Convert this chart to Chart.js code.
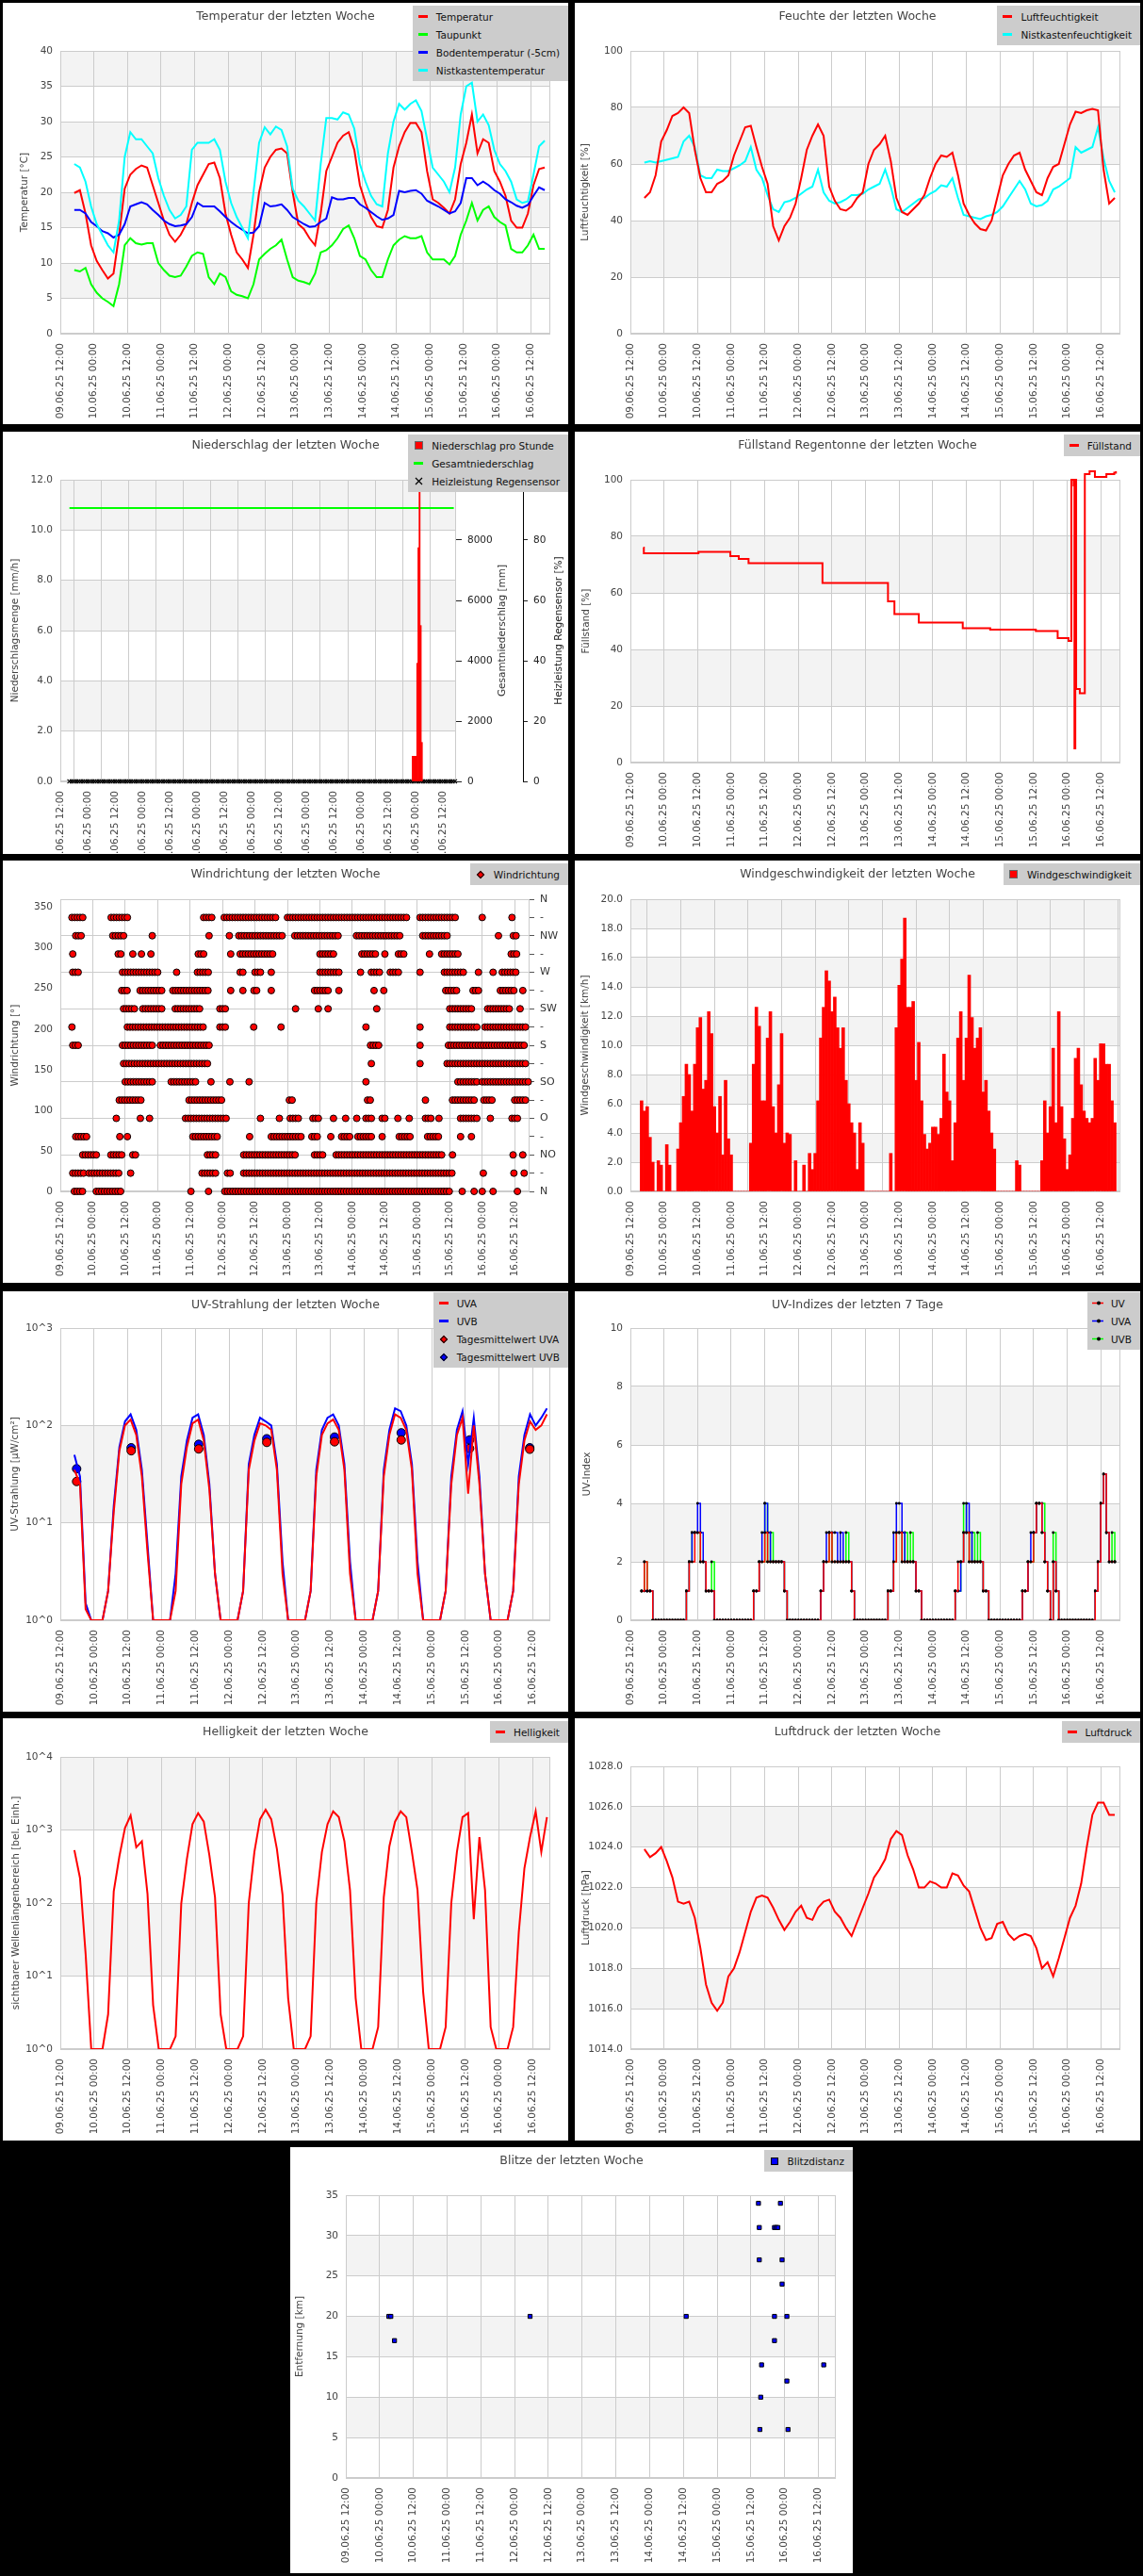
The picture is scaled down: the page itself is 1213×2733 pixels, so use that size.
<!DOCTYPE html>
<html><head><meta charset="utf-8">
<script src="https://cdn.jsdelivr.net/npm/chart.js@4.4.1/dist/chart.umd.min.js"></script>
<style>
body{margin:0;background:#000;width:1213px;height:2733px;position:relative;overflow:hidden;font-family:"DejaVu Sans",sans-serif}
.p{position:absolute;background:#fff;overflow:hidden}
.p canvas{position:absolute;left:0;top:0}
.t{position:absolute;top:6px;left:0;right:0;text-align:center;font-size:12.5px;color:#444;line-height:15px}
.lg{position:absolute;right:0;background:#ccc;padding:2px 9px 2px 5px;font-size:10.5px;color:#111}
.li{height:19px;display:flex;align-items:center;white-space:nowrap}
.mk{width:12px;margin-right:8px;display:flex;justify-content:center;align-items:center}
</style></head><body>
<script>
// ---------- DATA ----------
const tickHours=[0,12,24,36,48,60,72,84,96,108,120,132,144,156,168];
const hours2=Array.from({length:85},(_,i)=>5+2*i);   // 2-hourly sample times (h after 09.06.25 12:00)
const hours1=Array.from({length:170},(_,i)=>4+i);    // hourly sample times

const tempAir=[19.9,20.3,17.0,12.5,10.3,9.0,7.8,8.5,14.0,20.5,
22.5,23.3,23.8,23.5,21.0,18.5,16.0,14.0,13.0,14.0,
15.5,18.5,21.0,22.5,24.0,24.2,22.0,17.0,14.0,11.5,
10.5,9.3,14.0,20.0,23.5,25.0,26.0,26.2,25.5,20.0,
15.5,14.8,13.5,12.5,17.0,23.0,25.0,27.0,28.0,28.5,
26.0,21.0,18.5,16.5,15.2,15.0,17.5,23.5,26.5,28.5,
29.8,29.8,28.5,23.0,19.0,18.5,17.8,17.0,19.0,24.0,
27.0,31.0,25.5,27.5,27.0,23.0,21.5,19.5,16.0,15.0,
15.0,17.0,21.0,23.3,23.5];
const tempDew=[9.0,8.8,9.3,7.0,5.8,5.0,4.5,3.9,7.0,12.5,
13.5,12.8,12.6,12.8,12.8,10.0,9.0,8.2,8.0,8.2,
9.5,11.0,11.5,11.3,8.0,7.0,8.5,8.0,6.0,5.5,
5.3,5.0,7.0,10.5,11.3,12.0,12.5,13.3,10.5,8.0,
7.5,7.3,7.0,8.5,11.5,11.8,12.5,13.5,14.8,15.3,
13.5,11.0,10.5,9.0,8.0,8.0,10.5,12.5,13.3,13.8,
13.5,13.5,13.8,11.5,10.5,10.5,10.5,9.8,11.0,14.0,
16.0,18.5,16.0,17.5,18.0,16.5,15.8,15.3,12.0,11.5,
11.5,12.5,14.0,12.0,12.0];
const tempSoil=[17.5,17.5,17.0,15.8,15.2,14.5,14.2,13.6,14.0,15.5,
18.0,18.3,18.6,18.3,17.5,16.8,16.0,15.5,15.2,15.3,
15.5,16.5,18.5,18.0,18.0,18.0,17.3,16.5,15.8,15.2,
14.7,14.2,14.3,15.2,18.5,18.0,18.1,18.3,17.5,16.5,
16.0,15.5,15.1,15.2,15.8,16.3,19.3,19.0,19.0,19.2,
19.2,18.3,17.8,17.2,16.6,16.1,16.3,16.8,20.2,20.0,
20.2,20.3,19.8,18.8,18.4,18.0,17.5,17.0,17.3,18.5,
22.0,22.0,21.0,21.5,21.0,20.3,19.8,19.0,18.6,18.1,
17.8,18.2,19.5,20.7,20.3];
const tempBox=[24,23.5,21.5,18,15.5,14,12.5,11.5,16,25,
28.5,27.5,27.5,26.5,25.5,22,19.5,17.5,16.3,16.8,
18,26,27,27,27,27.5,26,21.5,18.5,16.5,
15,13.5,20,27,29.2,28.2,29.3,28.8,26.5,20.5,
18.8,18,17,16,24,30.5,30.5,30.3,31.3,31,
29,24,21.5,19.5,18.3,18,25.5,30,32.5,31.7,
32.5,33,31.5,27.5,23.5,22.5,21.5,20,23.5,31,
35,35.5,30,31,29.5,26,24,23,21.5,19,
18.5,18.7,22.5,26.5,27.3];

const humAir=[48,50,56,68,72,77,78,80,78,65,
55,50,50,53,54,56,63,68,73,73.5,
66,59,53,38,33,38,41,46,55,65,
70,74,70,52,47,44,43.5,45,48,50,
60,65,67,70,61,48,43,42,44,46,
49,55,60,63,62.5,64,56,46,42,39,
37,36.5,40,48,56,60,63,64,58,54,
50,49,55,59,60,67,74,78.5,78,79,
79.5,79,58,46,48];
const humBox=[60.5,61,60.5,61,61.5,62,62.5,68,70,66,
56,55,55,58,57.5,57.5,58.5,59.5,61,66,
58,55,49,44,43,46.5,47,48,49.5,51,
52,58,50,47,46,46.5,47.5,49,49,49.5,
51,52,53,58,52,44,43,44.5,46,47.5,
48,49.5,50.5,52.5,52,55,48,42,41.5,41,
40.5,41.5,42,43,45,48,51,54,51,46,
45,45.5,47,51,52,53.5,55,66,64,65,
66,73,62,54,50];

const rainT=[154.5,155,155.5,156,156.5,157,157.5,158,158.5];
const rainV=[1.0,1.0,1.0,1.0,4.7,9.3,12.5,6.2,1.55];
const rainTotT=[4,172.5];
const rainTotV=[9060,9060];
const heatV=hours1.map(()=>0);

const fillT=[4.6,4.8,24.3,35.7,38.7,42.2,68.6,92.0,94.3,103.0,118.7,128.5,144.8,152.6,156.5,157.5,158.3,158.6,158.9,159.2,160.5,162.3,164.0,165.9,170.0,172.8,173.4];
const fillV=[76,74,74.5,73,72,70.5,63.5,57,52.5,49.5,47.5,47,46.5,44,43,100,98,5,100,26,24.5,102,103,101,102,102.5,103];

const dirSectors=[0,22.5,45,67.5,90,112.5,135,157.5,180,202.5,225,247.5,270,292.5,315,337.5];
const dirRanges=[
[[5.2,8.3],[13.3,22.7],[48.3],[54.8],[60.8,144.3],[148.6],[153],[156],[160],[169]],
[[4.6,9.3],[10.6,22],[26],[52.4,57.7],[61.8,63],[67.8,145],[156.4],[167.7],[171.5]],
[[8.3,13.3],[18.7,23],[26.8,28],[54.4,57.7],[67.8,87.3],[94,97.4],[102,141],[145],[167.4],[171]],
[[5.7,10.6],[22],[24.8],[49,58.4],[70],[78,89],[93,95.4],[100],[104,107.5],[110,115],[119],[125.3,129.7],[135.8,140],[148],[152]],
[[20.7],[29.6],[33],[46.3,62],[74],[81],[85,88.7],[93.4,96],[101],[105.5],[109.6],[113,115],[119,120.6],[124.8],[129],[135,137],[140],[148,154],[159],[167,169]],
[[21.8,30],[47.6,59.8],[84.7,86],[113.6,115],[135],[145,153],[156.6,160],[168,172]],
[[24,34],[41,50.7],[55.7],[62.7],[69.8],[113],[147,154],[156,173]],
[[23.4,54.6],[115],[133],[143,172.5]],
[[4.6,7],[23,34],[37,55],[114.7,118],[133],[143.5,172]],
[[4.3],[24.8,53.7],[59,61],[71.5],[81.6],[113],[133],[144,154],[157,172.5]],
[[23.4,27.5],[30.5,38],[42.5,52.4],[59,61.8],[87],[95.4],[99],[117],[144,152],[158,166],[170]],
[[22.7,24.8],[29.5,38],[41.6,55],[63],[67.5],[71.6,73.5],[78],[94,99],[103],[116],[119.6],[142.5,147],[152.6,155],[162.7,167.7],[171]],
[[4.6,7],[23,36],[43],[50.7,55.5],[66.5,67.5],[72,74],[78],[96,103],[111],[115,118.7],[122,125],[133],[142,149],[154.6],[160],[163.4,169]],
[[4.6,5.5],[21.4,23],[26.8,27.7],[30],[33.5],[51,53.7],[63],[66.5,79],[96,101.5],[111.5,116.5],[120],[125,127],[136.5],[141,147.5],[166.7,169.5]],
[[5.7,8],[19.4,24],[34],[55],[62.5],[66,82.6],[86.7,103.5],[109.5,126],[134,143],[162],[167.5,169]],
[[4.3,8.3],[18.8,24.8],[53,56],[60.6,80],[84,128],[133,146],[156],[167]]
];
const dirTicks=[0,22.5,45,67.5,90,112.5,135,157.5,180,202.5,225,247.5,270,292.5,315,337.5,360];
const dirLabels=['N','-','NO','-','O','-','SO','-','S','-','SW','-','W','-','NW','-','N'];

const windSpeed=[6.2,5.5,5.8,3.7,2.0,0,2.1,1.8,0,3.2,1.8,0,0,
2.9,4.7,6.5,8.7,8.0,5.5,8.7,11.2,11.9,7.0,7.6,12.3,10.8,5.8,4.0,6.5,2.5,7.6,3.6,2.5,
0,0,0,0,0,0,3.3,
8.7,12.6,11.3,6.2,6.2,10.5,12.3,5.8,4.0,7.3,10.8,3.3,4.0,3.9,0,2.1,0,0,1.8,0,2.6,1.5,2.6,
6.2,10.5,12.6,15.1,14.4,12.3,13.3,11.2,9.8,11.2,7.6,6.0,4.7,4.0,1.5,4.7,3.3,
0,0,0,0,0,0,0,0,0,2.6,0,
11.2,14.1,15.9,18.7,12.6,12.6,13.0,7.6,10.2,6.2,3.9,2.9,3.3,4.4,4.4,3.9,5.0,9.4,6.8,6.2,2.1,
4.7,10.5,12.3,7.6,10.5,14.8,11.9,9.8,10.5,11.2,6.8,7.6,5.5,4.0,2.9,
0,0,0,0,0,0,0,2.1,1.8,0,0,0,0,0,0,0,
2.1,6.2,4.0,5.8,9.8,4.7,12.3,5.8,3.6,1.5,2.5,5.0,9.1,9.8,7.3,5.5,5.0,4.7,5.0,9.1,7.6,10.1,10.1,8.7,8.7,6.2,4.7];

const uvA=[35,25,1.3,1,1,1,
2,13,55,100,115,80,30,5,1,1,1,1,
2,25,60,105,115,70,22,3,1,1,1,1,
2,35,70,105,100,90,35,3,1,1,1,1,
2,30,80,105,115,90,35,3,1,1,1,1,
2,30,80,130,120,90,35,3,1,1,1,1,
2,25,80,120,20,100,25,3,1,1,1,1,
2,25,70,110,90,100,130];
const uvB=[50,30,1.5,1,1,1,
2,15,60,110,130,90,35,6,1,1,1,1,
3,30,70,120,130,80,25,3,1,1,1,1,
2,40,80,120,110,100,40,4,1,1,1,1,
2,35,90,120,130,100,40,4,1,1,1,1,
2,35,90,150,140,100,40,4,1,1,1,1,
2,30,90,140,40,120,30,3,1,1,1,1,
2,30,80,130,100,120,150];
const uvMeanT=[5.8,25.2,49.2,73.4,97.5,121.2,145.5,166.9];
const uvMeanA=[26.6,55,57.4,67,68,71,58,57];
const uvMeanB=[35.9,59,64,73,76,84,71,59];

const uviUV=[1,2,1,1,0, 0,0,0,0,0,0,0,0,0,0,0,
1,2,2,3,3,2,2,1,1,1,0, 0,0,0,0,0,0,0,0,0,0,0,0,0,
1,1,2,2,3,2,2,2,2,2,2,1,0, 0,0,0,0,0,0,0,0,0,0,0,
1,2,2,3,2,2,2,2,2,2,2,1,0, 0,0,0,0,0,0,0,0,0,0,0,
1,1,2,3,3,2,2,2,2,2,1,1,0, 0,0,0,0,0,0,0,0,0,0,0,
1,2,2,3,3,2,2,2,2,2,1,1,0, 0,0,0,0,0,0,0,0,0,0,0,
1,1,2,2,3,4,4,3,2,1,0,2,1,0, 0,0,0,0,0,0,0,0,0,0,0,0,
1,2,4,5,3,2,2,2];
const uviA=[1,1,1,1,0, 0,0,0,0,0,0,0,0,0,0,0,
1,2,3,3,4,3,2,1,1,1,0, 0,0,0,0,0,0,0,0,0,0,0,0,0,
1,1,2,3,4,3,2,2,2,2,2,1,0, 0,0,0,0,0,0,0,0,0,0,0,
1,2,3,3,3,3,2,3,2,2,2,1,0, 0,0,0,0,0,0,0,0,0,0,0,
1,1,3,4,4,3,2,2,2,2,1,1,0, 0,0,0,0,0,0,0,0,0,0,0,
1,1,2,3,4,3,2,2,2,2,1,1,0, 0,0,0,0,0,0,0,0,0,0,0,
1,1,2,3,3,4,4,3,2,1,0,2,1,0, 0,0,0,0,0,0,0,0,0,0,0,0,
1,2,4,5,3,2,2,2];
const uviB=[1,2,1,1,0, 0,0,0,0,0,0,0,0,0,0,0,
1,2,3,3,3,2,2,1,1,2,0, 0,0,0,0,0,0,0,0,0,0,0,0,0,
1,1,2,2,4,2,3,2,2,2,2,1,0, 0,0,0,0,0,0,0,0,0,0,0,
1,2,2,3,2,2,2,2,2,3,2,1,0, 0,0,0,0,0,0,0,0,0,0,0,
1,1,2,3,3,2,3,2,3,2,1,1,0, 0,0,0,0,0,0,0,0,0,0,0,
1,1,2,4,3,2,3,2,3,2,1,1,0, 0,0,0,0,0,0,0,0,0,0,0,
1,1,2,2,3,4,4,4,2,1,0,3,1,0, 0,0,0,0,0,0,0,0,0,0,0,0,
1,2,4,5,3,2,3,2];

const bright=[530,220,20,1,1,1,
3,145,435,1070,1580,580,700,133,4,1,1,1,
1.5,98,400,1200,1700,1300,450,120,3,1,1,1,
1.5,100,500,1400,1900,1400,550,130,5,1,1,1,
1.5,100,500,1200,1800,1500,700,150,5,1,1,1,
2,120,600,1300,1800,1500,500,150,6,1,1,1,
2,100,500,1500,1700,60,800,150,2,1,1,1,
2,40,300,800,1800,500,1500];

const press=[1023.9,1023.5,1023.7,1024.0,1023.3,1022.5,1021.3,1021.2,1021.3,1020.5,
1019.0,1017.2,1016.3,1015.9,1016.3,1017.6,1018.0,1018.8,1019.8,1020.8,
1021.5,1021.6,1021.5,1021.0,1020.4,1019.9,1020.3,1020.8,1021.1,1020.5,
1020.4,1021.0,1021.3,1021.4,1020.8,1020.5,1020.0,1019.6,1020.3,1021.0,
1021.7,1022.5,1022.9,1023.4,1024.4,1024.8,1024.6,1023.6,1022.9,1022.0,
1022.0,1022.3,1022.2,1022.0,1022.0,1022.7,1022.6,1022.1,1021.8,1020.9,
1020.0,1019.4,1019.5,1020.2,1020.3,1019.7,1019.4,1019.6,1019.7,1019.6,
1019.0,1018.0,1018.3,1017.6,1018.5,1019.5,1020.5,1021.1,1022.2,1024.0,
1025.6,1026.2,1026.2,1025.6,1025.6];

const blitzT=[15.3,16.0,17.3,65.5,121.0,146.7,147.0,147.0,147.2,147.5,147.8,152.4,152.4,152.4,153.0,153.6,154.5,155.1,155.1,156.8,156.8,157.2,169.9];
const blitzV=[20,20,17,20,20,34,31,27,6,10,14,31,20,17,31,31,34,27,24,20,12,6,14];

// ---------- HELPERS ----------
const FAM='DejaVu Sans';
const F={family:FAM,size:10.5};
Chart.defaults.font.family=FAM;
Chart.defaults.elements.point.radius=0;
Chart.defaults.elements.line.tension=0;
Chart.defaults.elements.line.borderWidth=2;

Chart.register({id:'bands',
 beforeDraw(c,a,o){ if(o.off) return; const y=c.scales.y; const {left,right}=c.chartArea;
   const t=y.ticks.map(k=>k.value).sort((p,q)=>p-q); const ctx=c.ctx; ctx.save(); ctx.fillStyle='#f3f3f3';
   for(let i=1;i<t.length-1;i+=2){const y1=y.getPixelForValue(t[i]),y2=y.getPixelForValue(t[i+1]);ctx.fillRect(left,Math.min(y1,y2),right-left,Math.abs(y2-y1));}
   ctx.restore();},
 beforeDatasetsDraw(c){const {left,top,right,bottom}=c.chartArea;const ctx=c.ctx;ctx.save();ctx.strokeStyle='#ccc';ctx.lineWidth=1;ctx.strokeRect(Math.round(left)+0.5,Math.round(top)+0.5,Math.round(right-left)-1,Math.round(bottom-top)-1);ctx.restore();},
 afterDraw(c,a,o){ if(!o.rt) return; const ctx=c.ctx; const cy=(c.chartArea.top+c.chartArea.bottom)/2;
   o.rt.forEach(r=>{ctx.save();ctx.translate(r.x,cy);ctx.rotate(-Math.PI/2);ctx.font='10.5px '+FAM;ctx.fillStyle=r.c;ctx.textAlign='center';ctx.textBaseline='middle';ctx.fillText(r.text,0,0);ctx.restore();});}
});

const fmtX=h=>{const tot=12+h;const d=9+Math.floor(tot/24);const hh=tot%24;return String(d).padStart(2,'0')+'.06.25 '+String(hh).padStart(2,'0')+':00';};
const pts=(ts,vs)=>ts.map((t,i)=>({x:t,y:vs[i]}));
function xS(max,h){return {type:'linear',min:0,max:max,offset:false,
 afterBuildTicks:s=>{s.ticks=tickHours.map(v=>({value:v}));},afterFit:s=>{s.height=h;},
 ticks:{autoSkip:false,minRotation:90,maxRotation:90,padding:10,color:'#444',font:F,callback:v=>fmtX(v)},
 grid:{color:'#ccc',drawTicks:false},border:{display:false}};}
function yS(o){return {type:o.type||'linear',position:'left',min:o.min,max:o.max,
 afterBuildTicks:o.ticks?(s=>{s.ticks=o.ticks.map(v=>({value:v}));}):undefined,
 ticks:{stepSize:o.step,color:'#444',font:F,padding:8,callback:o.fmt||(v=>String(v))},
 grid:{color:'#ccc',drawTicks:false,display:o.grid!==false},border:{display:false},
 title:{display:true,text:o.title,color:'#444',font:{family:FAM,size:10.5},padding:{top:o.tx-6.3,bottom:0}},
 afterFit:s=>{s.width=o.w;}};}
function opts(x,scales,pad,pl){return {responsive:false,animation:false,events:[],devicePixelRatio:1,
 layout:{padding:{top:pad.t,right:pad.r||0,left:0,bottom:0}},
 plugins:Object.assign({legend:{display:false},tooltip:{enabled:false},title:{display:false},bands:{off:!!pad.nb}},pl||{}),
 scales:Object.assign({x:x},scales)};}
const L=(data,c,extra)=>Object.assign({type:'line',data:data,borderColor:c,backgroundColor:c,pointRadius:0,fill:false},extra||{});

function marker(m,c){
 if(m==='line')return `<span style="width:10px;height:3px;background:${c}"></span>`;
 if(m==='bar')return `<span style="width:7px;height:7px;background:${c};border:1px solid #666"></span>`;
 if(m==='cross')return `<svg width="9" height="9"><path d="M1 1L8 8M8 1L1 8" stroke="#000" stroke-width="1.2"/></svg>`;
 if(m==='dot')return `<span style="width:4px;height:4px;background:${c};border:1px solid #000;transform:rotate(45deg)"></span>`;
 if(m==='ldot')return `<svg width="14" height="7"><line x1="0" y1="3.5" x2="14" y2="3.5" stroke="${c}" stroke-width="1.5"/><circle cx="7" cy="3.5" r="2" fill="#000"/></svg>`;
 if(m==='sq')return `<span style="width:6px;height:6px;background:${c};border:1px solid #000"></span>`;
}
function panel(g,title,items,ltop){
 const d=document.createElement('div');d.className='p';
 Object.assign(d.style,{left:g.l+'px',top:g.t+'px',width:g.w+'px',height:g.h+'px'});
 const cv=document.createElement('canvas');cv.width=g.w;cv.height=g.h;cv.style.width=g.w+'px';cv.style.height=g.h+'px';d.appendChild(cv);
 const t=document.createElement('div');t.className='t';t.textContent=title;d.appendChild(t);
 const lg=document.createElement('div');lg.className='lg';lg.style.top=(ltop==null?3:ltop)+'px';
 lg.innerHTML=items.map(it=>`<div class="li"><span class="mk">${marker(it.m,it.c)}</span>${it.t}</div>`).join('');
 d.appendChild(lg);document.body.appendChild(d);return cv;}

// ---------- CHARTS ----------
new Chart(panel({l:3,t:3,w:600,h:447},'Temperatur der letzten Woche',[
 {t:'Temperatur',m:'line',c:'#f00'},{t:'Taupunkt',m:'line',c:'#0f0'},{t:'Bodentemperatur (-5cm)',m:'line',c:'#00f'},{t:'Nistkastentemperatur',m:'line',c:'#0ff'}]),
 {type:'line',data:{datasets:[L(pts(hours2,tempBox),'#0ff'),L(pts(hours2,tempSoil),'#00f'),L(pts(hours2,tempDew),'#0f0'),L(pts(hours2,tempAir),'#f00')]},
  options:opts(xS(175,96),{y:yS({min:0,max:40,step:5,title:'Temperatur [°C]',tx:23,w:61})},{t:51,r:19})});

new Chart(panel({l:610,t:3,w:600,h:447},'Feuchte der letzten Woche',[
 {t:'Luftfeuchtigkeit',m:'line',c:'#f00'},{t:'Nistkastenfeuchtigkeit',m:'line',c:'#0ff'}]),
 {type:'line',data:{datasets:[L(pts(hours2,humAir),'#f00'),L(pts(hours2,humBox),'#0ff')]},
  options:opts(xS(175,96),{y:yS({min:0,max:100,step:20,title:'Luftfeuchtigkeit [%]',tx:11.5,w:59})},{t:51,r:21})});

(function(){
 const o=opts(xS(173.5,77),{
  y:yS({min:0,max:12,step:2,fmt:v=>v.toFixed(1),title:'Niederschlagsmenge [mm/h]',tx:13,w:61}),
  y2:{type:'linear',position:'right',min:0,max:10000,afterBuildTicks:s=>{s.ticks=[0,2000,4000,6000,8000].map(v=>({value:v}));},
   ticks:{color:'#222',font:F,padding:6,callback:v=>String(v)},grid:{drawOnChartArea:false,drawTicks:true,tickLength:6,tickColor:'#222'},border:{display:false},afterFit:s=>{s.width=71;}},
  y3:{type:'linear',position:'right',min:0,max:100,afterBuildTicks:s=>{s.ticks=[0,20,40,60,80].map(v=>({value:v}));},
   ticks:{color:'#222',font:F,padding:6,callback:v=>String(v)},grid:{drawOnChartArea:false,drawTicks:true,tickLength:5,tickColor:'#222'},border:{display:true,color:'#000'},afterFit:s=>{s.width=48;}}
 },{t:51,r:0},{bands:{rt:[{text:'Gesamtniederschlag [mm]',x:530,c:'#333'},{text:'Heizleistung Regensensor [%]',x:590,c:'#222'}]}});
 new Chart(panel({l:3,t:458,w:600,h:448},'Niederschlag der letzten Woche',[
  {t:'Niederschlag pro Stunde',m:'bar',c:'#f00'},{t:'Gesamtniederschlag',m:'line',c:'#0f0'},{t:'Heizleistung Regensensor',m:'cross',c:'#000'}]),
  {type:'bar',data:{datasets:[
   {type:'bar',data:pts(rainT,rainV),backgroundColor:'#f00',barPercentage:1,categoryPercentage:1,yAxisID:'y'},
   L(pts(rainTotT,rainTotV),'#0f0',{yAxisID:'y2'}),
   {type:'line',data:pts(hours1,heatV),showLine:false,pointStyle:'crossRot',pointRadius:3,borderColor:'#000',borderWidth:1.2,yAxisID:'y3',clip:false}
  ]},options:o});
})();

new Chart(panel({l:610,t:458,w:600,h:448},'Füllstand Regentonne der letzten Woche',[{t:'Füllstand',m:'line',c:'#f00'}]),
 {type:'line',data:{datasets:[L(pts(fillT,fillV),'#f00',{stepped:true,clip:{left:0,right:0,bottom:0,top:false}})]},
  options:opts(xS(175,97),{y:yS({min:0,max:100,step:20,title:'Füllstand [%]',tx:12,w:59})},{t:51,r:21})});

(function(){
 const wp=[];
 dirSectors.forEach((d,i)=>dirRanges[i].forEach(r=>{if(r.length===1)wp.push({x:r[0],y:d});else for(let t=r[0];t<=r[1]+1e-6;t+=1)wp.push({x:t,y:d});}));
 const ya=yS({min:0,max:360,title:'Windrichtung [°]',tx:13,w:61,grid:false,ticks:[0,50,100,150,200,250,300,350]});
 new Chart(panel({l:3,t:913,w:600,h:448},'Windrichtung der letzten Woche',[{t:'Windrichtung',m:'dot',c:'#f00'}]),
  {type:'line',data:{datasets:[{type:'line',data:wp,showLine:false,pointRadius:3.5,pointBackgroundColor:'#f00',pointBorderColor:'#000',pointBorderWidth:1,clip:false}]},
   options:opts(xS(173.5,97),{y:ya,
    y2:{type:'linear',position:'right',min:0,max:360,afterBuildTicks:s=>{s.ticks=dirTicks.map(v=>({value:v}));},
     ticks:{color:'#333',font:{family:FAM,size:11},padding:6,callback:(v,i)=>dirLabels[i]},
     grid:{color:c=>c.index%2===0?'#ccc':'rgba(0,0,0,0)',drawTicks:true,tickLength:5,tickColor:'#555'},border:{display:false},afterFit:s=>{s.width=41;}}
   },{t:41,r:0,nb:true})});
})();

new Chart(panel({l:610,t:913,w:600,h:448},'Windgeschwindigkeit der letzten Woche',[{t:'Windgeschwindigkeit',m:'bar',c:'#f00'}]),
 {type:'bar',data:{datasets:[{data:pts(hours1,windSpeed),backgroundColor:'#f00',barPercentage:1,categoryPercentage:1}]},
  options:opts(xS(175,97),{y:yS({min:0,max:20,step:2,fmt:v=>v.toFixed(1),title:'Windgeschwindigkeit [km/h]',tx:11.5,w:59})},{t:41,r:21})});

new Chart(panel({l:3,t:1370,w:600,h:446},'UV-Strahlung der letzten Woche',[
 {t:'UVA',m:'line',c:'#f00'},{t:'UVB',m:'line',c:'#00f'},{t:'Tagesmittelwert UVA',m:'dot',c:'#f00'},{t:'Tagesmittelwert UVB',m:'dot',c:'#00f'}],1),
 {type:'line',data:{datasets:[L(pts(hours2,uvA),'#f00'),L(pts(hours2,uvB),'#00f'),
   {type:'line',data:pts(uvMeanT,uvMeanA),showLine:false,pointRadius:4.5,pointBackgroundColor:'#f00',pointBorderColor:'#000',pointBorderWidth:1},
   {type:'line',data:pts(uvMeanT,uvMeanB),showLine:false,pointRadius:4.5,pointBackgroundColor:'#00f',pointBorderColor:'#000',pointBorderWidth:1}]},
  options:opts(xS(174.2,97),{y:yS({type:'logarithmic',min:1,max:1000,ticks:[1,10,100,1000],fmt:v=>'10^'+Math.round(Math.log10(v)),title:'UV-Strahlung [µW/cm²]',tx:13,w:61})},{t:39,r:19})});

new Chart(panel({l:610,t:1370,w:600,h:446},'UV-Indizes der letzten 7 Tage',[
 {t:'UV',m:'ldot',c:'#f00'},{t:'UVA',m:'ldot',c:'#00f'},{t:'UVB',m:'ldot',c:'#0f0'}],1),
 {type:'line',data:{datasets:[
   L(pts(hours1,uviUV),'#f00',{stepped:true,borderWidth:1.5,pointRadius:1.4,pointBackgroundColor:'#000',pointBorderWidth:0}),
   L(pts(hours1,uviA),'#00f',{stepped:true,borderWidth:1.5,pointRadius:1.4,pointBackgroundColor:'#000',pointBorderWidth:0}),
   L(pts(hours1,uviB),'#0f0',{stepped:true,borderWidth:1.5,pointRadius:1.4,pointBackgroundColor:'#000',pointBorderWidth:0})]},
  options:opts(xS(175,97),{y:yS({min:0,max:10,step:2,title:'UV-Index',tx:13.4,w:59})},{t:39,r:21})});

new Chart(panel({l:3,t:1823,w:600,h:448},'Helligkeit der letzten Woche',[{t:'Helligkeit',m:'line',c:'#f00'}]),
 {type:'line',data:{datasets:[L(pts(hours2,bright),'#f00')]},
  options:opts(xS(174.2,97),{y:yS({type:'logarithmic',min:1,max:10000,ticks:[1,10,100,1000,10000],fmt:v=>'10^'+Math.round(Math.log10(v)),title:'sichtbarer Wellenlängenbereich [bel. Einh.]',tx:14,w:61})},{t:41,r:19})});

new Chart(panel({l:610,t:1823,w:600,h:448},'Luftdruck der letzten Woche',[{t:'Luftdruck',m:'line',c:'#f00'}]),
 {type:'line',data:{datasets:[L(pts(hours2,press),'#f00')]},
  options:opts(xS(175,97),{y:yS({min:1014,max:1028,step:2,fmt:v=>v.toFixed(1),title:'Luftdruck [hPa]',tx:12.6,w:59})},{t:51,r:21})});

new Chart(panel({l:308,t:2278,w:597,h:452},'Blitze der letzten Woche',[{t:'Blitzdistanz',m:'sq',c:'#00f'}]),
 {type:'line',data:{datasets:[{type:'line',data:pts(blitzT,blitzV),showLine:false,pointStyle:'rect',pointRadius:3,pointBackgroundColor:'#00f',pointBorderColor:'#000',pointBorderWidth:1}]},
  options:opts(xS(174.2,101),{y:yS({min:0,max:35,step:5,title:'Entfernung [km]',tx:10.5,w:59})},{t:51,r:18})});
</script>
</body></html>
